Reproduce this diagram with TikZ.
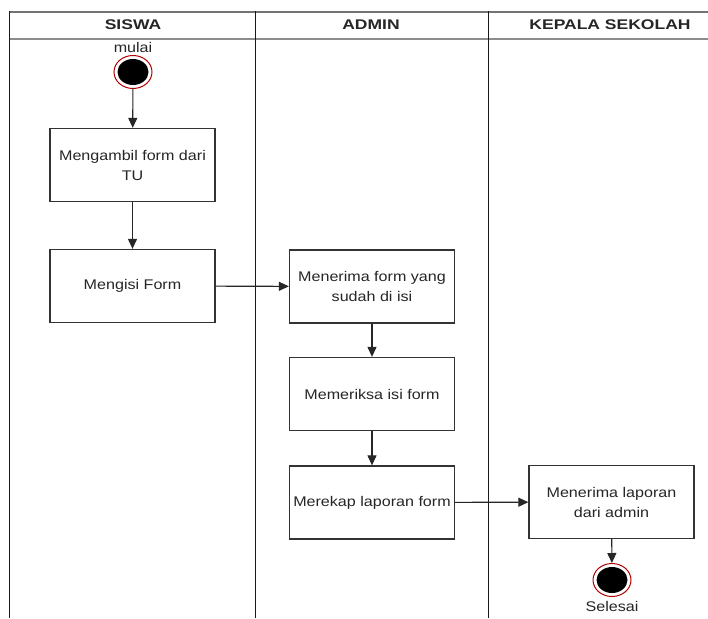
\documentclass[tikz,border=0pt]{standalone}
\usepackage{fontspec}
\setmainfont{Liberation Sans}
\newfontfamily\lanefont[FakeStretch=1.15]{Liberation Sans}
\newfontfamily\headfont[FakeStretch=1.25]{Liberation Sans}
\usetikzlibrary{arrows.meta,shapes.geometric}
\begin{document}
\begin{tikzpicture}[x=1pt,y=-1pt,
  lanehead/.style={font=\headfont\fontsize{14}{18}\selectfont\bfseries, text=black!85},
  action/.style={draw=black!80, line width=1.3pt, minimum width=165pt, minimum height=73pt,
    align=center, inner sep=1pt, font=\lanefont\fontsize{14}{20}\selectfont, text=black!85},
  flow/.style={draw=black!85, line width=1.1pt, -{Triangle[length=10pt,width=9pt]}},
  label/.style={font=\lanefont\fontsize{14}{16}\selectfont, text=black!85, inner sep=0pt},
  startring/.style={ellipse, draw=red!70!black, line width=1pt, minimum width=38pt,
    minimum height=33pt, inner sep=0pt},
  startdot/.style={ellipse, fill=black, minimum width=31pt, minimum height=26pt, inner sep=0pt}]
\useasboundingbox (0,0) rectangle (708,618);
\fill[white] (0,0) rectangle (708,618);

% swimlane frame
\draw[black!55, line width=2pt] (9,12) -- (708,12);
\draw[black!45, line width=2.6pt] (9,39) -- (708,39);
\draw[black!90, line width=1.6pt] (9.5,11) -- (9.5,618);
\draw[black!90, line width=1.3pt] (255.5,11) -- (255.5,618);
\draw[black!90, line width=1.3pt] (488.5,11) -- (488.5,618);

\node[lanehead] (hsiswa) at (133,25) {SISWA};
\node[lanehead] (hadmin) at (371,25) {ADMIN};
\node[lanehead] (hkepsek) at (610,25) {KEPALA SEKOLAH};

% start
\node[label] (lmulai) at (133,47) {mulai};
\node[startring] (start) at (133,72) {};
\node[startdot] (startin) at (133,72) {};

% actions
\node[action] (ambil) at (132.5,165) {Mengambil form dari\\TU};
\node[action] (isi) at (132.5,286) {Mengisi Form};
\node[action] (terima) at (372,286.5) {Menerima form yang\\sudah di isi};
\node[action] (periksa) at (372,394) {Memeriksa isi form};
\node[action] (rekap) at (372,502.5) {Merekap laporan form};
\node[action] (laporan) at (611.5,502) {Menerima laporan\\dari admin};

% end
\node[startring] (finish) at (612,580) {};
\node[startdot] (finishin) at (612,580) {};
\node[label] (lselesai) at (612,606) {Selesai};

% flows
\draw[flow] (start) -- (ambil);
\draw[flow] (ambil) -- (isi);
\draw[flow] (isi) -- (terima);
\draw[flow] (terima) -- (periksa);
\draw[flow] (periksa) -- (rekap);
\draw[flow] (rekap) -- (laporan);
\draw[flow] (laporan) -- (finish);
\end{tikzpicture}
\end{document}
